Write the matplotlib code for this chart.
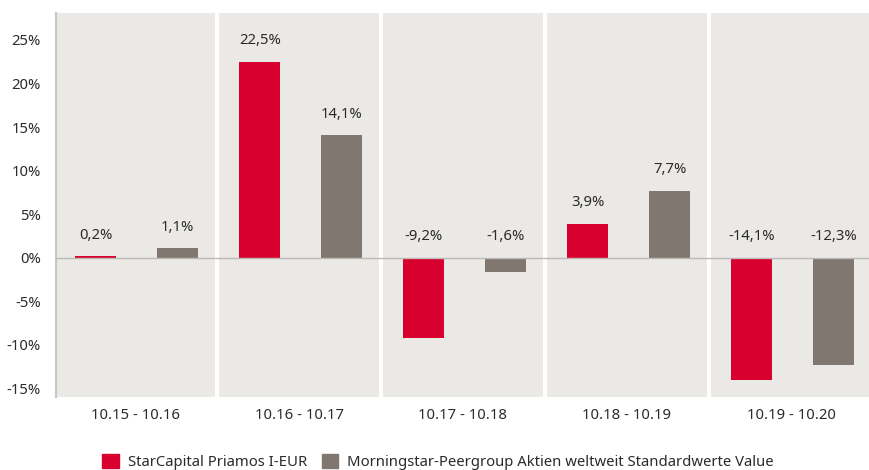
import matplotlib
matplotlib.use("Agg")
import matplotlib.pyplot as plt
from matplotlib.patches import Patch
import numpy as np

categories = ["10.15 - 10.16", "10.16 - 10.17", "10.17 - 10.18", "10.18 - 10.19", "10.19 - 10.20"]
fund_name = "StarCapital Priamos I-EUR"
peer_name = "Morningstar-Peergroup Aktien weltweit Standardwerte Value"
fund_values = [0.2, 22.5, -9.2, 3.9, -14.1]
peer_values = [1.1, 14.1, -1.6, 7.7, -12.3]
yticks = [-15, -10, -5, 0, 5, 10, 15, 20, 25]

RED = "#d7002e"
GRAY = "#7f7770"
BG = "#ebe9e5"
TXT = "#2b2b2b"
FS = 10.7

plt.rcParams['font.family'] = ['Noto Sans', 'DejaVu Sans']

W, H = 869, 470
fig = plt.figure(figsize=(W/100, H/100), dpi=100)
left, right, top, bottom = 56, 869, 13, 397
ax = fig.add_axes([left/W, 1-bottom/H, (right-left)/W, (bottom-top)/H])
ax.set_facecolor(BG)

x = np.arange(len(categories))
bw = 0.25
off_a, off_b = -0.239, 0.261
ax.bar(x + off_a, fund_values, width=bw, color=RED, zorder=3, label=fund_name)
ax.bar(x + off_b, peer_values, width=bw, color=GRAY, zorder=3, label=peer_name)

ax.set_xlim(-0.482, 4.476)
ax.set_ylim(-16.0, 28.1)

# separators
for b in np.arange(0.5, 4.5, 1.0):
    ax.axvline(b, color="white", lw=3, zorder=2)
ax.axhline(0, color="#bcbab6", lw=1, zorder=4)

def lab(v):
    return f"{v:.1f}".replace(".", ",") + "%"

for xs, vals in ((x + off_a, fund_values), (x + off_b, peer_values)):
    for xi, v in zip(xs, vals):
        base = max(v, 0)
        ax.annotate(lab(v), (xi, base), xytext=(0, 15), textcoords="offset points",
                    ha="center", va="center", fontsize=FS, color=TXT, zorder=5)

ax.set_yticks(yticks)
ax.set_yticklabels([f"{t}%" for t in yticks], fontsize=FS, color=TXT)
ax.set_xticks(x)
ax.set_xticklabels(categories, fontsize=FS, color=TXT)
ax.tick_params(axis="both", length=0)
ax.tick_params(axis="y", pad=11)
ax.tick_params(axis="x", pad=8)
for s in ["top", "right", "bottom"]:
    ax.spines[s].set_visible(False)
ax.spines["left"].set_color("#c9c7c3")
ax.spines["left"].set_linewidth(1.5)

handles = [Patch(color=RED, label=fund_name), Patch(color=GRAY, label=peer_name)]
fig.legend(handles=handles, loc="center", bbox_to_anchor=(438/W, 1-462/H), ncol=2,
           frameon=False, fontsize=FS, handlelength=1.1, handleheight=1.1,
           handletextpad=0.6, columnspacing=1.0, labelcolor=TXT)

fig.savefig("out.png", dpi=100)
